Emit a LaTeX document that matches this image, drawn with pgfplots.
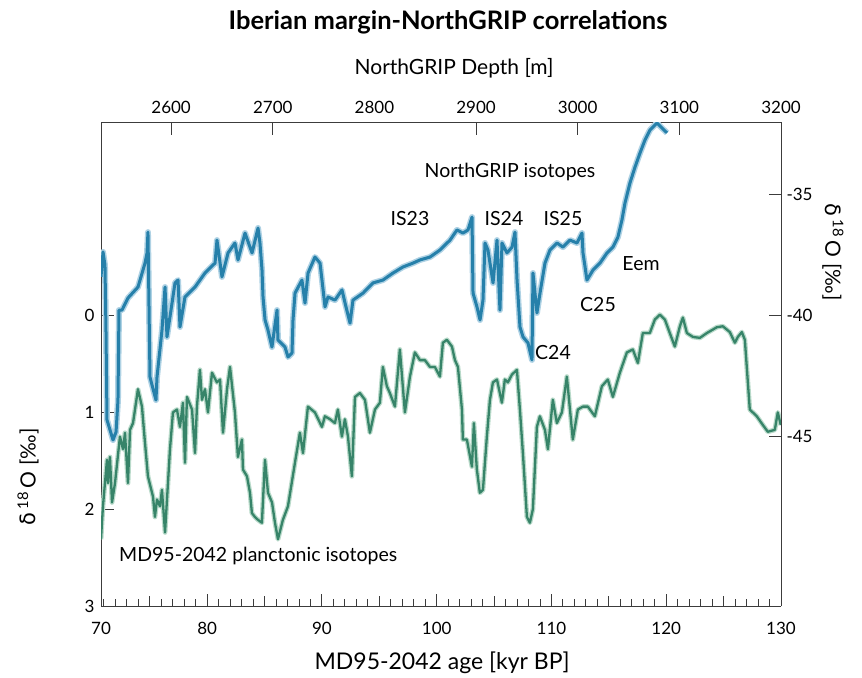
\documentclass[border=0pt]{standalone}
\usepackage{fontspec}
\setmainfont{Lato}
\newfontfamily\dejavu{DejaVu Sans}
\usepackage{pgfplots}
\usepackage{pgfplotstable}
\pgfplotsset{compat=1.18}
\definecolor{ngripc}{RGB}{38,128,170}
\definecolor{ngripl}{RGB}{175,210,228}
\definecolor{mdc}{RGB}{55,132,105}
\definecolor{mdl}{RGB}{185,218,202}
\definecolor{framec}{RGB}{60,60,60}

\pgfplotstableread{
age val
70.75 2.31
70.92 1.97
71.27 1.49
71.36 1.73
71.53 1.46
71.71 1.93
71.97 1.73
72.40 1.25
72.67 1.38
72.84 1.21
73.10 1.73
73.28 1.18
73.54 1.11
73.97 0.76
74.32 0.94
74.58 1.31
74.84 1.66
75.28 1.87
75.45 2.08
75.63 1.90
75.89 1.97
76.06 1.80
76.33 2.24
76.50 1.90
76.76 1.38
77.02 1.00
77.37 0.97
77.63 1.15
77.89 0.90
78.07 1.52
78.24 0.84
78.68 0.97
78.94 1.42
79.11 0.94
79.37 0.56
79.55 0.87
79.81 0.76
80.07 1.00
80.42 0.59
80.85 0.69
81.12 0.66
81.38 1.21
81.73 0.76
81.99 0.53
82.42 1.00
82.68 1.46
83.03 1.28
83.12 1.59
83.47 1.66
83.73 1.83
83.90 2.04
84.16 2.08
84.43 2.11
84.77 2.14
85.04 1.49
85.30 1.83
85.65 1.93
85.91 2.14
86.17 2.31
86.60 2.11
87.04 1.97
87.65 1.52
88.08 1.21
88.35 1.42
88.78 0.94
89.39 1.00
90.00 1.15
90.26 1.04
90.70 1.07
91.13 1.11
91.39 0.97
91.74 1.25
92.00 1.07
92.27 1.25
92.61 1.66
92.88 0.84
93.31 0.80
93.75 0.87
94.18 1.21
94.62 0.97
95.05 0.90
95.31 0.53
95.66 0.73
95.92 0.80
96.36 0.94
96.79 0.35
97.23 1.00
97.67 0.63
98.10 0.38
98.54 0.46
98.97 0.46
99.41 0.53
99.84 0.53
100.28 0.63
100.54 0.28
100.89 0.25
101.33 0.32
101.59 0.46
101.85 0.53
102.20 0.97
102.28 1.28
102.63 1.28
103.07 1.56
103.24 1.11
103.50 1.59
103.76 1.83
104.03 1.80
104.37 1.25
104.64 0.87
104.90 0.69
105.25 0.66
105.68 0.90
105.94 0.66
106.20 0.69
106.55 0.61
106.99 0.56
107.25 0.97
107.51 1.42
107.86 2.08
108.12 2.14
108.38 2.00
108.73 1.15
108.99 1.04
109.43 1.18
109.69 1.38
110.12 0.87
110.47 1.11
110.91 1.00
111.34 0.63
111.86 1.28
112.30 0.97
112.74 0.94
113.17 0.94
113.78 1.04
114.39 0.73
114.91 0.66
115.35 0.84
115.96 0.59
116.57 0.38
117.09 0.35
117.53 0.49
117.96 0.18
118.57 0.18
119.01 0.04
119.44 -0.01
119.88 0.04
120.31 0.18
120.75 0.32
121.19 0.11
121.45 0.02
121.80 0.18
122.32 0.22
122.93 0.23
123.54 0.18
124.41 0.12
124.93 0.11
125.54 0.17
125.98 0.28
126.24 0.22
126.59 0.17
126.85 0.25
127.28 0.97
127.89 1.04
128.42 1.13
128.85 1.20
129.46 1.18
129.72 1.00
129.98 1.13
}\mddata

\pgfplotstableread{
depth d18o
2531.0 -38.40
2533.0 -37.37
2534.9 -37.91
2535.9 -40.60
2536.9 -44.31
2539.9 -44.73
2542.8 -45.14
2545.8 -44.81
2547.7 -43.49
2548.7 -39.77
2551.7 -39.77
2557.6 -39.27
2567.4 -38.82
2574.3 -37.83
2576.3 -37.41
2577.2 -36.55
2579.2 -42.54
2581.2 -42.87
2585.1 -43.49
2586.1 -42.54
2591.0 -40.60
2594.0 -38.82
2595.9 -40.88
2600.9 -39.48
2603.8 -38.65
2606.8 -38.53
2608.7 -40.47
2613.6 -39.23
2623.5 -38.82
2633.3 -38.24
2643.2 -37.83
2645.1 -36.88
2650.0 -38.40
2656.0 -37.41
2662.8 -37.00
2665.8 -37.70
2672.7 -36.59
2679.6 -37.41
2685.5 -36.38
2687.4 -37.00
2689.4 -38.12
2690.4 -39.23
2692.4 -40.18
2695.3 -40.60
2699.2 -41.30
2704.2 -39.77
2705.1 -41.01
2712.0 -41.30
2715.0 -41.71
2718.9 -41.55
2719.9 -40.18
2721.9 -39.07
2728.7 -38.53
2731.7 -39.48
2734.7 -38.24
2741.5 -37.58
2746.5 -37.83
2751.4 -39.64
2754.3 -39.23
2761.2 -39.36
2768.1 -38.94
2771.1 -39.48
2776.0 -40.31
2778.9 -39.36
2788.8 -39.07
2798.6 -38.65
2808.4 -38.53
2818.3 -38.24
2828.1 -37.99
2838.0 -37.83
2844.8 -37.70
2854.7 -37.58
2864.5 -37.29
2874.4 -36.88
2881.2 -36.46
2887.1 -36.59
2892.1 -36.46
2896.0 -35.93
2897.0 -39.07
2900.9 -39.64
2903.9 -40.18
2906.8 -39.36
2908.8 -37.00
2911.7 -37.29
2916.7 -38.65
2920.6 -36.88
2923.5 -39.77
2925.5 -37.00
2930.4 -37.41
2935.4 -37.17
2938.3 -36.55
2940.3 -38.53
2943.2 -40.47
2946.2 -40.88
2951.1 -41.13
2955.0 -41.83
2956.0 -38.24
2959.9 -39.89
2962.9 -39.07
2967.8 -37.83
2972.7 -37.29
2979.6 -37.00
2985.5 -37.17
2992.4 -36.88
2999.3 -37.00
3004.2 -36.59
3005.2 -37.41
3009.1 -38.53
3015.0 -38.12
3021.9 -37.83
3028.8 -37.41
3034.7 -37.17
3039.6 -36.75
3043.5 -36.05
3046.5 -35.35
3051.4 -34.52
3056.4 -33.86
3061.3 -33.28
3066.2 -32.74
3071.1 -32.33
3078.0 -32.04
3082.9 -32.25
3087.9 -32.45
}\ngripdata

\begin{document}
\begin{tikzpicture}
\path[use as bounding box] (0,0) rectangle (862bp,-678bp);
\pgfplotsset{
  common/.style={
    at={(101bp,-606bp)}, anchor=south west,
    width=680bp, height=484bp, scale only axis,
    axis line style={framec, line width=0.9bp},
    tick style={framec, line width=0.9bp},
    tick align=inside,
    major tick length=12.5bp,
    minor tick length=7bp,
    tick label style={font=\fontsize{17bp}{20bp}\selectfont, text=black},
    /pgf/number format/assume math mode=true,
  }
}
\begin{axis}[common,
  xmin=70.75, xmax=130, ymin=-2, ymax=3, y dir=reverse,
  axis x line*=bottom, axis y line*=left,
  xtick={70.75,80,90,100,110,120,130},
  xticklabels={70,80,90,100,110,120,130},
  minor xtick={71,72,73,74,76,77,78,79,81,82,83,84,86,87,88,89,91,92,93,94,96,97,98,99,101,102,103,104,106,107,108,109,111,112,113,114,116,117,118,119,121,122,123,124,126,127,128,129},
  extra x ticks={75,85,95,105,115,125},
  extra x tick labels={},
  extra x tick style={major tick length=10bp},
  ytick={0,1,2,3},
  yticklabels={0,1,2,3},
  xticklabel style={yshift=-13bp},
  yticklabel style={xshift=-3bp},
]
\addplot[mdl, line width=4.8bp, line join=round] table[x=age, y=val] {\mddata};
\addplot[mdc, line width=2.3bp, line join=round] table[x=age, y=val] {\mddata};
\end{axis}
\begin{axis}[common,
  xmin=2531, xmax=3200, ymin=-52, ymax=-32,
  axis x line*=top, axis y line*=right,
  xtick={2600,2700,2900,3000,3100,3200},
  xticklabels={2600,2700,2900,3000,3100,3200},
  extra x ticks={2800},
  extra x tick labels={2800},
  extra x tick style={major tick length=0bp},
  ytick={-45,-40,-35},
  yticklabels={-45,-40,-35},
  xticklabel style={yshift=5bp},
  yticklabel style={xshift=2bp},
]
\addplot[ngripl, line width=6bp, line join=round] table[x=depth, y=d18o] {\ngripdata};
\addplot[ngripc, line width=3bp, line join=round] table[x=depth, y=d18o] {\ngripdata};
\end{axis}

\node[font=\bfseries\fontsize{25.5bp}{28bp}\selectfont] at (448bp,-22bp) {Iberian margin-NorthGRIP correlations};
\node[font=\fontsize{21bp}{24bp}\selectfont] at (454bp,-68bp) {NorthGRIP Depth [m]};
\node[font=\fontsize{23bp}{26bp}\selectfont] at (442bp,-663bp) {MD95-2042 age [kyr BP]};
\node[font=\fontsize{21bp}{24bp}\selectfont, rotate=90] at (28bp,-477bp) {{\dejavu δ}\,\textsuperscript{18}\,O [‰]};
\node[font=\fontsize{21bp}{24bp}\selectfont, rotate=-90] at (833bp,-252bp) {{\dejavu δ}\,\textsuperscript{18}\,O [‰]};

\begin{scope}[every node/.style={font=\fontsize{19.5bp}{22bp}\selectfont, inner sep=0pt}]
\node at (510bp,-172bp) {NorthGRIP isotopes};
\node at (410bp,-219bp) {IS23};
\node at (504bp,-219bp) {IS24};
\node at (563bp,-219bp) {IS25};
\node at (641bp,-264bp) {Eem};
\node at (598bp,-305bp) {C25};
\node at (553bp,-353bp) {C24};
\node[anchor=west] at (119bp,-556bp) {MD95-2042 planctonic isotopes};
\end{scope}
\end{tikzpicture}
\end{document}
